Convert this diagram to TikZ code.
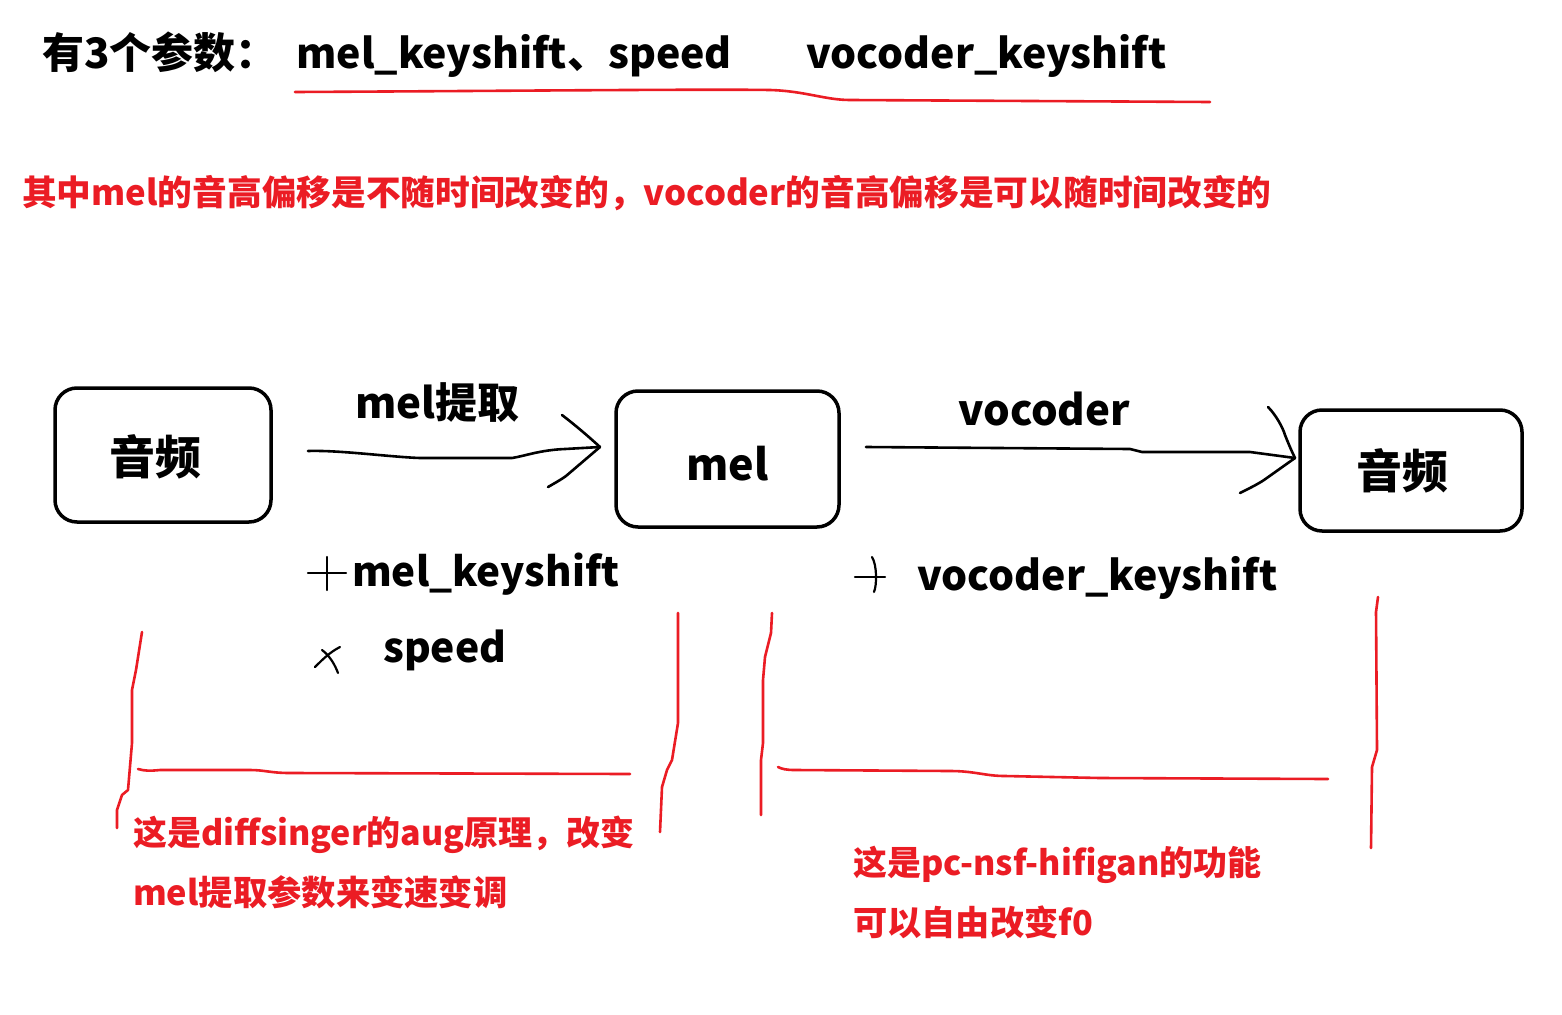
\documentclass[tikz,border=0pt]{standalone}
\usepackage{fontspec}
\setmainfont{Noto Sans CJK SC}
\definecolor{pen}{RGB}{235,28,36}
\tikzset{
  box/.style={draw=black, line width=3.5pt, rounded corners=22pt, inner sep=0pt},
  boxtext/.style={inner sep=0pt, font=\bfseries\fontsize{46}{46}\selectfont},
  ink/.style={draw=black, line width=2.6pt, line cap=round, line join=round},
  redink/.style={draw=pen, line width=2.6pt, line cap=round, line join=round},
  lbl/.style={inner sep=0pt, anchor=base west, font=\bfseries\fontsize{#1}{#1}\selectfont},
  lbl/.default=42,
}
\begin{document}
\begin{tikzpicture}[x=1pt,y=-1pt]
\useasboundingbox[fill=white] (0,0) rectangle (1562,1014);
% title
\node[lbl=42] (title) at (42,69) {有3个参数：};
\node[lbl=41] (title1) at (296,69) {mel\_keyshift、speed};
\node[lbl=41] (title2) at (806,69) {vocoder\_keyshift};
\draw[redink] (295,92) .. controls (500,91) and (700,89) .. (770,90)
  .. controls (805,91) and (825,100) .. (850,100) -- (1210,102);
% red sentence
\node[lbl=34.7, text=pen] (note) at (22,205) {其中mel的音高偏移是不随时间改变的，vocoder的音高偏移是可以随时间改变的};
% boxes
\node[box, minimum width=216pt, minimum height=134pt] (b1) at (163,455) {};
\node[boxtext] (t1) at (155,457) {音频};
\node[box, minimum width=223pt, minimum height=136pt, font=\bfseries\fontsize{44}{44}\selectfont] (bm) at (727.5,459) {};
\node[lbl=43] (tm) at (686,480) {mel};
\node[box, minimum width=222pt, minimum height=121pt] (b3) at (1411,470.5) {};
\node[boxtext] (t3) at (1402,471) {音频};
% arrow 1
\coordinate (a1s) at (308,451);
\coordinate (a1e) at (600,447);
\draw[ink] (a1s) .. controls (340,450) and (390,457) .. (420,458)
  -- (512,458) .. controls (525,456) and (540,450) .. (565,449) -- (a1e);
\draw[ink] (562,415) .. controls (575,425) and (588,436) .. (a1e);
\draw[ink] (548,487) .. controls (555,483) and (562,479) .. (566,476) -- (a1e);
\node[lbl=42] (l1) at (355,418) {mel提取};
% arrow 2
\coordinate (a2s) at (866,447);
\coordinate (a2e) at (1295,458);
\draw[ink] (a2s) -- (1130,449) -- (1142,452) -- (1250,452) -- (a2e);
\draw[ink] (1268,407) .. controls (1276,415) and (1283,428) .. (1285,435) .. controls (1289,445) and (1292,452) .. (a2e);
\draw[ink] (1240,493) .. controls (1250,488) and (1258,484) .. (1264,480) -- (a2e);
\node[lbl=42] (l2) at (958,425) {vocoder};
% params
\node[lbl=40.4] (p1) at (352,586) {mel\_keyshift};
\draw[ink, line width=2.2pt] (308,573) -- (346,573);
\draw[ink, line width=2.2pt] (327,557) -- (327,590);
\node[lbl=40.8] (p2) at (383,662) {speed};
\draw[ink, line width=2.2pt] (315,667) .. controls (322,660) and (330,652) .. (340,647);
\draw[ink, line width=2.2pt] (322,650) .. controls (330,656) and (335,665) .. (338,673);
\node[lbl=41] (p3) at (917,590) {vocoder\_keyshift};
\draw[ink, line width=2.2pt] (855,577) -- (885,577);
\draw[ink, line width=2.2pt] (872,557) .. controls (877,565) and (877,585) .. (874,592);
% left bracket
\draw[redink] (142,632) -- (136,670) -- (132,690) -- (132,743) -- (128,790) -- (122,795) -- (117,810) -- (117,828);
\draw[redink] (678,613) -- (678,723) -- (672,760) -- (667,770) -- (662,787) -- (660,832);
\draw[redink] (138,769) .. controls (145,771) and (150,771) .. (160,770) -- (250,770) .. controls (265,770) and (270,773) .. (290,773) -- (630,774);
\node[lbl=34, text=pen] (n1) at (133,845) {这是diffsinger的aug原理，改变};
\node[lbl=34.3, text=pen] (n2) at (133,905) {mel提取参数来变速变调};
% right bracket
\draw[redink] (772,613) -- (771,633) -- (765,657) -- (763,680) -- (763,743) -- (761,760) -- (761,815);
\draw[redink] (1378,597) -- (1376,612) -- (1377,750) -- (1372,767) -- (1371,848);
\draw[redink] (778,767) .. controls (782,769) and (786,770) .. (795,770) -- (950,771) .. controls (975,771) and (985,776) .. (1005,776) -- (1100,778) -- (1328,779);
\node[lbl=34, text=pen] (n3) at (853,875) {这是pc-nsf-hifigan的功能};
\node[lbl=34.2, text=pen] (n4) at (853,935) {可以自由改变f0};
\end{tikzpicture}
\end{document}
